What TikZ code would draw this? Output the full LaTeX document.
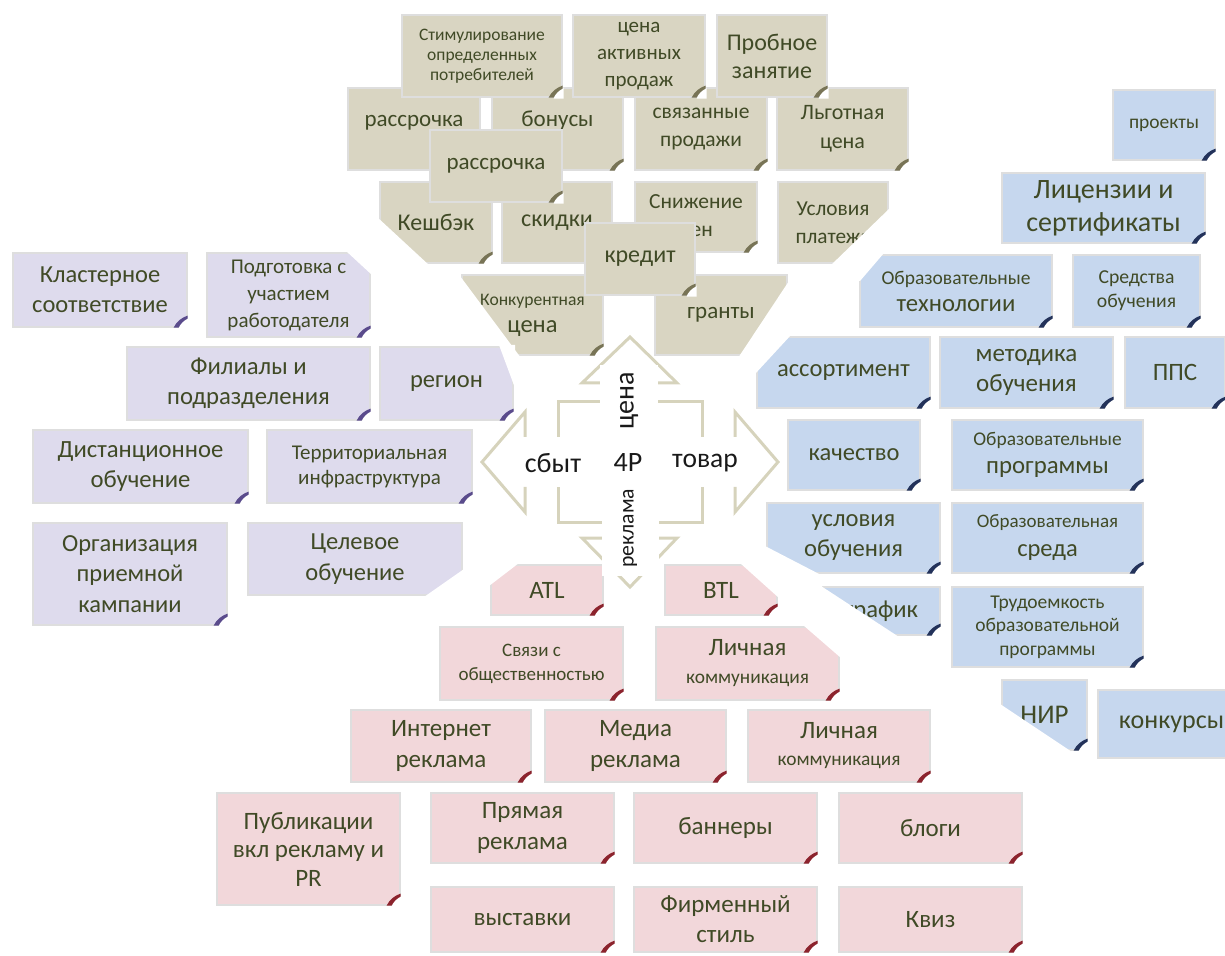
\documentclass[tikz,border=0pt]{standalone}
\usepackage{fontspec}
\setmainfont{Carlito}
\definecolor{beigef}{RGB}{217,213,194}
\definecolor{lavf}{RGB}{222,219,237}
\definecolor{bluef}{RGB}{198,215,238}
\definecolor{pinkf}{RGB}{242,215,218}
\definecolor{txt}{RGB}{64,74,38}
\definecolor{beigec}{RGB}{120,116,86}
\definecolor{lavc}{RGB}{90,75,140}
\definecolor{bluec}{RGB}{35,50,90}
\definecolor{pinkc}{RGB}{140,35,45}
\definecolor{crossc}{RGB}{214,211,188}
\newcommand\fpx[2]{\fontsize{\the\dimexpr #1pt/2\relax}{\the\dimexpr #2pt/2\relax}\selectfont}
\tikzset{
  x=0.5pt, y=-0.5pt,
  note/.style={inner sep=0pt, align=center, text=txt, draw=black!13, line width=0.6pt},
  crossl/.style={draw=crossc, line width=1.5pt, line join=miter},
  crosslbl/.style={inner sep=0pt, text=black!90},
  cutw/.style={fill=white},
}
% name, group, x1, y1, x2, y2, font px, skip px, text
\newcommand\note[9]{%
  \pgfmathsetmacro\nw{(#5-#3)/2}%
  \pgfmathsetmacro\nh{(#6-#4)/2}%
  \node[note, fill=#2f, minimum width=\nw pt, minimum height=\nh pt, font=\fpx{#7}{#8}] (#1) at ({(#3+#5)/2},{(#4+#6)/2}) {#9};%
  \begin{scope}[shift={(#1.south east)}]
    \fill[white] (-9,1) .. controls (-7,-4) and (-4,-8) .. (1,-10) -- (1,1) -- cycle;
    \fill[#2c] (-14,0) .. controls (-11,-6) and (-6,-10) .. (0,-12) -- (0,-9) .. controls (-4,-7) and (-7,-4) .. (-9,0) -- cycle;
  \end{scope}}
\begin{document}
\begin{tikzpicture}
\useasboundingbox (0,0) rectangle (1225,956);
\clip (0,0) rectangle (1225,956);
% ---------- beige (цена) ----------
\note{rassr}{beige}{348}{88}{480}{170}{23}{30}{\raisebox{1pt}[0pt][0pt]{рассрочка}}
\note{bonus}{beige}{492}{88}{623}{170}{23}{30}{\raisebox{1pt}[0pt][0pt]{бонусы}}
\note{svyaz}{beige}{635}{88}{767}{170}{21.5}{28}{связанные\\продажи}
\note{lgot}{beige}{777}{88}{908}{170}{22}{29}{Льготная\\цена}
\note{stim}{beige}{402}{15}{562}{97}{17.5}{20}{Стимулирование\\определенных\\потребителей}
\note{cenaakt}{beige}{573}{15}{705}{97}{21}{27}{цена\\активных\\продаж}
\note{probn}{beige}{717}{15}{827}{97}{24}{28}{Пробное\\занятие}
\note{keshbek}{beige}{380}{182}{492}{263}{24}{30}{Кешбэк}
\note{skidki}{beige}{502}{182}{612}{263}{24}{30}{скидки}
\note{snizh}{beige}{635}{182}{757}{252}{21.5}{28}{Снижение\\цен}
\note{uslpl}{beige}{778}{182}{888}{263}{21.3}{28}{Условия\\платежа}
\note{rassrb}{beige}{430}{130}{562}{202}{23}{30}{рассрочка}
\note{konkur}{beige}{462}{275}{603}{355}{24.5}{27}{{\fpx{17.6}{27}Конкурентная}\\цена}
\note{granty}{beige}{655}{275}{787}{355}{23}{30}{гранты}
\note{kredit}{beige}{585}{223}{695}{295}{24}{30}{кредит}
\fill[cutw] (377,217) -- (430,266) -- (377,266) -- cycle;
\fill[cutw] (460,276) -- (521,358) -- (460,358) -- cycle;
\fill[cutw] (789,281) -- (738,358) -- (789,358) -- cycle;
\fill[cutw] (890,208) -- (830,266) -- (890,266) -- cycle;
% ---------- purple (сбыт) ----------
\note{klast}{lav}{13}{253}{187}{327}{24.5}{30}{Кластерное\\соответствие}
\note{podg}{lav}{207}{253}{370}{337}{21}{27}{Подготовка с\\участием\\работодателя}
\note{filial}{lav}{127}{347}{370}{420}{24.7}{30}{Филиалы и\\подразделения}
\note{region}{lav}{380}{347}{513}{420}{24.5}{30}{регион}
\note{dist}{lav}{33}{430}{248}{503}{24.7}{30}{Дистанционное\\обучение}
\note{territ}{lav}{267}{430}{472}{503}{21}{25}{Территориальная\\инфраструктура}
\note{organiz}{lav}{33}{523}{227}{625}{24.5}{30.5}{Организация\\приемной\\кампании}
\note{celev}{lav}{248}{523}{462}{595}{24.5}{31}{Целевое\\обучение}
\fill[cutw] (346,251) -- (372,251) -- (372,275) -- cycle;
\fill[cutw] (499,345) -- (515,345) -- (515,388) -- cycle;
\fill[cutw] (464,569) -- (464,597) -- (424,597) -- cycle;
% ---------- blue (товар) ----------
\note{proekty}{blue}{1113}{90}{1215}{160}{19.5}{24}{проекты}
\note{licenz}{blue}{1002}{173}{1205}{243}{28}{33}{Лицензии и\\сертификаты}
\note{obtech}{blue}{860}{255}{1052}{327}{24.7}{27}{{\fpx{19.5}{27}Образовательные}\\технологии}
\note{sredstva}{blue}{1073}{255}{1200}{327}{19.7}{24}{Средства\\обучения}
\note{assort}{blue}{757}{337}{930}{408}{24.6}{30}{ассортимент}
\note{metod}{blue}{940}{337}{1113}{408}{25}{30}{методика\\обучения}
\note{pps}{blue}{1125}{337}{1225}{408}{25}{30}{ППС}
\note{kach}{blue}{788}{420}{920}{490}{24.5}{30}{качество}
\note{obprog}{blue}{952}{420}{1143}{490}{24.8}{28}{{\fpx{19.4}{28}Образовательные}\\программы}
\note{uslob}{blue}{767}{503}{940}{573}{24.6}{30}{условия\\обучения}
\note{obsreda}{blue}{952}{503}{1143}{573}{24.5}{29}{{\fpx{19}{29}Образовательная}\\среда}
\note{grafik}{blue}{823}{587}{940}{635}{24.6}{30}{график}
\note{trud}{blue}{952}{587}{1143}{667}{19.5}{23.5}{Трудоемкость\\образовательной\\программы}
\note{nir}{blue}{1002}{680}{1087}{750}{27}{30}{НИР}
\note{konkursy}{blue}{1098}{690}{1245}{758}{26}{30}{конкурсы}
\fill[cutw] (860,281) -- (884,253) -- (858,253) -- (858,281) -- cycle;
\fill[cutw] (791,335) -- (755,335) -- (755,374) -- cycle;
\fill[cutw] (765,546) -- (821,575) -- (765,575) -- cycle;
\fill[cutw] (821,586) -- (899,637) -- (821,637) -- cycle;
\fill[cutw] (1000,704) -- (1072,752) -- (1000,752) -- cycle;
% ---------- pink (реклама) ----------
\note{atl}{pink}{491}{565}{603}{615}{25}{30}{ATL}
\note{btl}{pink}{665}{565}{777}{615}{25}{30}{BTL}
\note{svyazi}{pink}{440}{627}{623}{700}{19}{24}{Связи с\\общественностью}
\note{lichn}{pink}{656}{627}{839}{700}{25}{28}{Личная\\{\fpx{19.4}{28}коммуникация}}
\note{internet}{pink}{351}{710}{531}{782}{25}{31}{Интернет\\реклама}
\note{media}{pink}{545}{710}{726}{782}{25}{31}{Медиа\\реклама}
\note{lichnb}{pink}{748}{710}{930}{782}{25}{27}{Личная\\{\fpx{19.4}{27}коммуникация}}
\note{publik}{pink}{217}{793}{400}{905}{25}{28.5}{Публикации\\вкл рекламу и\\PR}
\note{pryam}{pink}{431}{793}{614}{863}{25}{31}{Прямая\\реклама}
\note{bannery}{pink}{634}{793}{817}{863}{25}{30}{баннеры}
\note{blogi}{pink}{839}{793}{1022}{863}{25}{30}{блоги}
\note{vystavki}{pink}{431}{887}{614}{952}{25}{30}{выставки}
\note{firm}{pink}{634}{887}{817}{952}{25}{30}{Фирменный\\стиль}
\note{kviz}{pink}{839}{887}{1022}{952}{25}{30}{Квиз}
\fill[cutw] (489,586) -- (519,563) -- (489,563) -- cycle;
\fill[cutw] (740,563) -- (779,598) -- (779,563) -- cycle;
\fill[cutw] (803,625) -- (841,658) -- (841,625) -- cycle;
% ---------- central cross ----------
\draw[crossl] (602,383) -- (582,383) -- (630,337) -- (677,383) -- (657,383);
\draw[crossl] (657,402) -- (702,402) -- (702,437);
\draw[crossl] (735,437) -- (735,412) -- (778,462) -- (735,512) -- (735,487);
\draw[crossl] (702,487) -- (702,522) -- (657,522);
\draw[crossl] (657,538) -- (677,538) -- (630,587) -- (582,538) -- (602,538);
\draw[crossl] (602,522) -- (558,522) -- (558,487);
\draw[crossl] (525,487) -- (525,512) -- (482,462) -- (525,412) -- (525,437);
\draw[crossl] (558,437) -- (558,402) -- (602,402);
\node[crosslbl, font=\fpx{28}{34}] (p4) at (628,463) {4P};
\node[crosslbl, font=\fpx{28}{34}] (sbyt) at (553,463) {сбыт};
\node[crosslbl, font=\fpx{27.5}{34}] (tovar) at (705,463) {товар};
\node[crosslbl, font=\fpx{28}{34}, rotate=90, fill=white, minimum width=36pt, minimum height=29pt] (cena) at (629,401) {цена};
\node[crosslbl, font=\fpx{21.7}{26}, rotate=90, fill=white, minimum width=48pt, minimum height=28.5pt] (reklama) at (630,528) {реклама};
\end{tikzpicture}
\end{document}
